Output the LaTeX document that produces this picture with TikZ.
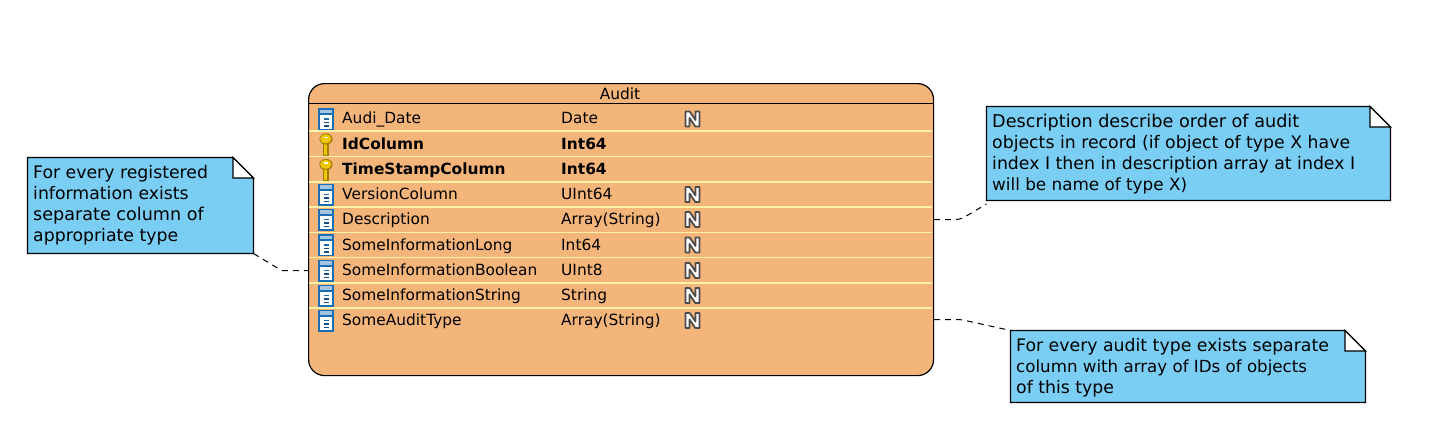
\documentclass[tikz,border=0pt]{standalone}
\usepackage{fontspec}
\setmainfont{DejaVu Sans}
\usetikzlibrary{calc}
\definecolor{tablefill}{HTML}{F4B57B}
\definecolor{notefill}{HTML}{7ACEF4}
\definecolor{rowline}{HTML}{FFF3A8}
\definecolor{iconblue}{HTML}{1C6EB4}
\definecolor{iconnavy}{HTML}{1B4E80}
\definecolor{keygold}{HTML}{EFC400}
\definecolor{keydark}{HTML}{A08000}
\tikzset{
  x=1pt,y=-1pt,
  tabletext/.style={anchor=base west,inner sep=0pt,font=\fontsize{15.4}{15}\selectfont,text=black},
  boldtext/.style={tabletext,font=\fontsize{15.4}{15}\selectfont\bfseries},
  notetext/.style={anchor=base west,inner sep=0pt,font=\fontsize{#1}{21}\selectfont,text=black},
  notetext/.default=17.3,
  notebody/.style={draw=black,line width=1.2pt,fill=notefill,line join=miter},
  notefold/.style={draw=black,line width=1.2pt,fill=white},
  link/.style={draw=black,line width=1pt,dash pattern=on 6pt off 5pt},
  rowrule/.style={draw=rowline,line width=1.4pt},
  pics/colicon/.style={code={
    \fill[iconblue] (-8,-11) rectangle (8,11);
    \fill[white] (-6,-4) rectangle (6,9.5);
    \fill[iconblue] (-2.5,-1) rectangle (3,.8);
    \fill[iconnavy] (-2.5,2.5) rectangle (3,4.3);
    \fill[iconnavy] (-2.5,6) rectangle (3,7.8);
    \fill[white!60!iconblue] (-6,-9.5) rectangle (6,-6);
  }},
  pics/keyicon/.style={code={
    \fill[keydark] (-3,-4) rectangle (3,11);
    \fill[keygold] (-2.2,-4) rectangle (1.2,10);
    \fill[keydark] (0,-5.5) ellipse (6.6 and 5.6);
    \fill[keygold] (-.3,-5.7) ellipse (5.6 and 4.6);
    \fill[white] (-2,-7.6) rectangle (2,-6.2);
  }},
  pics/nullicon/.style={code={
    \path[fill=white,draw=gray!60!black,line width=1.8pt,line join=round]
      (-7,-7.5) -- (-2.8,-7.5) -- (3,1) -- (3,-7.5) -- (7,-7.5) -- (7,7.5) -- (2.8,7.5) -- (-3,-1) -- (-3,7.5) -- (-7,7.5) -- cycle;
  }},
}
\begin{document}
\begin{tikzpicture}
\useasboundingbox (0,0) rectangle (1441,439);
% table
\node[draw=black,line width=1.2pt,fill=tablefill,rounded corners=16pt,minimum width=625pt,minimum height=292pt,inner sep=0pt,anchor=north west] (audit) at (308,83) {};
\node[tabletext,anchor=base] (title) at (620,99) {Audit};
\draw[black,line width=1.2pt] (audit.west |- 0,103.5) coordinate (hl) -- (audit.east |- 0,103.5);
\foreach \yy in {131,156.5,182,207,232.5,257.5,283,308}
  \draw[rowrule] (309,\yy) -- (932,\yy);
% rows
\pic at (326,119) {colicon};
\node[tabletext] (r1) at (342,123) {Audi\_Date};
\node[tabletext] (t1) at (561,123) {Date};
\pic at (692.5,119) {nullicon};
\pic at (326,144.5) {keyicon};
\node[boldtext] (r2) at (342,149) {IdColumn};
\node[boldtext] (t2) at (561,149) {Int64};
\pic at (326,170) {keyicon};
\node[boldtext] (r3) at (342,174) {TimeStampColumn};
\node[boldtext] (t3) at (561,174) {Int64};
\pic at (326,194.5) {colicon};
\node[tabletext] (r4) at (342,199) {VersionColumn};
\node[tabletext] (t4) at (561,199) {UInt64};
\pic at (692.5,194.5) {nullicon};
\pic at (326,219.5) {colicon};
\node[tabletext] (r5) at (342,224) {Description};
\node[tabletext] (t5) at (561,224) {Array(String)};
\pic at (692.5,219.5) {nullicon};
\pic at (326,245) {colicon};
\node[tabletext] (r6) at (342,250) {SomeInformationLong};
\node[tabletext] (t6) at (561,250) {Int64};
\pic at (692.5,245) {nullicon};
\pic at (326,270.5) {colicon};
\node[tabletext] (r7) at (342,275) {SomeInformationBoolean};
\node[tabletext] (t7) at (561,275) {UInt8};
\pic at (692.5,270.5) {nullicon};
\pic at (326,295.5) {colicon};
\node[tabletext] (r8) at (342,300) {SomeInformationString};
\node[tabletext] (t8) at (561,300) {String};
\pic at (692.5,295.5) {nullicon};
\pic at (326,320.5) {colicon};
\node[tabletext] (r9) at (342,325) {SomeAuditType};
\node[tabletext] (t9) at (561,325) {Array(String)};
\pic at (692.5,320.5) {nullicon};
% left note
\draw[notebody] (27.5,157.5) -- (233,157.5) -- (253.5,178) -- (253.5,253.5) -- (27.5,253.5) -- cycle;
\draw[notefold] (233,157.5) -- (233,178) -- (253.5,178) -- cycle;
\node[notetext] (noteLa) at (33,178.5) {For every registered};
\node[notetext] (noteLb) at (33,199.5) {information exists};
\node[notetext=17.6] (noteLc) at (33,220.5) {separate column of};
\node[notetext] (noteLd) at (33,241.5) {appropriate type};
% right top note
\draw[notebody] (986.5,106.5) -- (1370,106.5) -- (1390.5,127) -- (1390.5,200.5) -- (986.5,200.5) -- cycle;
\draw[notefold] (1370,106.5) -- (1370,127) -- (1390.5,127) -- cycle;
\node[notetext=17.64] (noteTa) at (992,127) {Description describe order of audit};
\node[notetext] (noteTb) at (992,148) {objects in record (if object of type X have};
\node[notetext] (noteTc) at (992,169) {index I then in description array at index I};
\node[notetext=16.8] (noteTd) at (992,190) {will be name of type X)};
% right bottom note
\draw[notebody] (1010.5,330.5) -- (1345,330.5) -- (1365.5,351) -- (1365.5,402.5) -- (1010.5,402.5) -- cycle;
\draw[notefold] (1345,330.5) -- (1345,351) -- (1365.5,351) -- cycle;
\node[notetext] (noteBa) at (1016,351) {For every audit type exists separate};
\node[notetext=16.67] (noteBb) at (1016,372.5) {column with array of IDs of objects};
\node[notetext] (noteBc) at (1016,393) {of this type};
% connectors
\coordinate (cL) at (253.5,253.5);
\coordinate (aL) at (audit.west |- 0,270.5);
\coordinate (aT) at (audit.east |- 0,219.5);
\coordinate (cT) at (986.5,204);
\coordinate (aB) at (audit.east |- 0,319.5);
\coordinate (cB) at (1010.5,330.5);
\draw[link] (cL) -- (279,269) .. controls (280,270.5) and (280,270.5) .. (282,270.5) -- (aL);
\draw[link] (aT) -- (955,219.5) .. controls (958,219.5) and (960,219) .. (963,218) -- (cT);
\draw[link] (aB) -- (955,319.5) .. controls (958,319.5) and (960,319.5) .. (963,320) -- (cB);
\end{tikzpicture}
\end{document}
